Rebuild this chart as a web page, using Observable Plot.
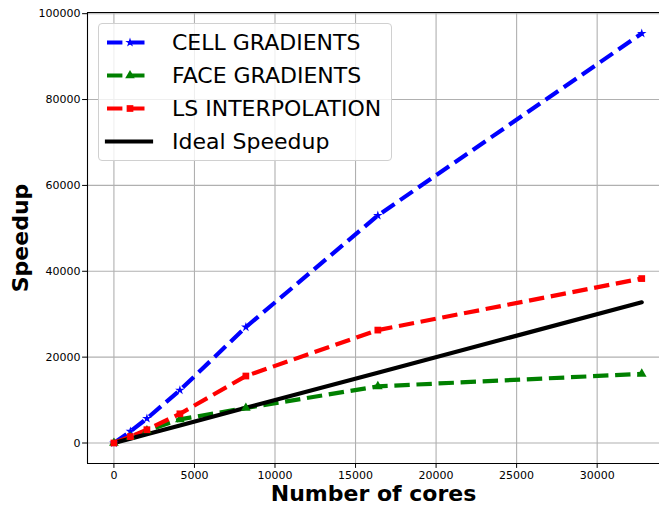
<!DOCTYPE html>
<html>
<head>
<meta charset="utf-8">
<script src="https://cdn.jsdelivr.net/npm/d3@7"></script>
<script src="https://cdn.jsdelivr.net/npm/@observablehq/plot@0.6"></script>
<style>
  html, body { margin: 0; padding: 0; background: #fff; }
  #wrap { position: relative; width: 659px; height: 506px; overflow: hidden; }
  #legend {
    position: absolute; left: 98px; top: 23px; width: 292px; height: 136px;
    border: 1px solid #d0d0d0; border-radius: 4px; background: rgba(255,255,255,0.8);
    font-family: "DejaVu Sans", sans-serif; font-size: 22px; color: #000;
  }
  .row { position: absolute; left: 0; height: 33px; width: 100%; }
  .row svg { position: absolute; left: 0; top: 0; }
  .row span { position: absolute; left: 73px; top: 50%; transform: translateY(-50%); line-height: 1; white-space: nowrap; }
</style>
</head>
<body>
<div id="wrap"></div>
<script>
const cores = [1, 1024, 2048, 4096, 8192, 16384, 32768];
const cellGradients = [1, 2700, 5700, 12300, 27000, 53000, 95400];
const faceGradients = [1, 1400, 2900, 5500, 8150, 13200, 16100];
const lsInterpolation = [1, 1500, 3100, 6800, 15600, 26300, 38300];
const idealSpeedup = [1, 1024, 2048, 4096, 8192, 16384, 32768];
const xTicks = [0, 5000, 10000, 15000, 20000, 25000, 30000];
const yTicks = [0, 20000, 40000, 60000, 80000, 100000];

const seriesNames = ["CELL GRADIENTS", "FACE GRADIENTS", "LS INTERPOLATION", "Ideal Speedup"];
const seriesColors = ["#0000ff", "#008000", "#ff0000", "#000000"];
const seriesSymbols = ["star", "triangle", "square", null];

function toRows(vals, name) { return cores.map((c, i) => ({cores: c, speedup: vals[i], name})); }
const cell = toRows(cellGradients, seriesNames[0]);
const face = toRows(faceGradients, seriesNames[1]);
const ls = toRows(lsInterpolation, seriesNames[2]);
const ideal = toRows(idealSpeedup, seriesNames[3]);

const xDom = [-1640, 33870];
const yDom = [-4775, 100275];
const dash = "15.4,6.7";

const chart = Plot.plot({
  width: 659, height: 506,
  marginLeft: 87, marginRight: 0, marginTop: 12, marginBottom: 43,
  style: { fontFamily: "DejaVu Sans, sans-serif", background: "#fff", overflow: "visible" },
  x: { domain: xDom, ticks: xTicks, tickFormat: d3.format("d") },
  y: { domain: yDom, ticks: yTicks, tickFormat: d3.format("d") },
  marks: [
    Plot.gridX(xTicks, { stroke: "#b0b0b0", strokeOpacity: 1, strokeWidth: 1.1 }),
    Plot.gridY(yTicks, { stroke: "#b0b0b0", strokeOpacity: 1, strokeWidth: 1.1 }),
    Plot.ruleX([xDom[0]], { stroke: "#000", strokeWidth: 1.1 }),
    Plot.ruleY([yDom[0], yDom[1]], { stroke: "#000", strokeWidth: 1.1 }),
    Plot.axisX({ ticks: xTicks, tickFormat: d3.format("d"), tickSize: 4.9, tickPadding: 3, fontSize: 11, label: null, stroke: "#000" }),
    Plot.axisY({ ticks: yTicks, tickFormat: d3.format("d"), tickSize: 4.9, tickPadding: 2, fontSize: 11, label: null, stroke: "#000" }),
    Plot.line(cell, { x: "cores", y: "speedup", stroke: seriesColors[0], strokeWidth: 4.2, strokeDasharray: dash, strokeLinecap: "butt" }),
    Plot.line(face, { x: "cores", y: "speedup", stroke: seriesColors[1], strokeWidth: 4.2, strokeDasharray: dash, strokeLinecap: "butt" }),
    Plot.line(ls, { x: "cores", y: "speedup", stroke: seriesColors[2], strokeWidth: 4.2, strokeDasharray: dash, strokeLinecap: "butt" }),
    Plot.line(ideal, { x: "cores", y: "speedup", stroke: seriesColors[3], strokeWidth: 4.2 }),
    Plot.dot(cell, { x: "cores", y: "speedup", symbol: "star", fill: seriesColors[0], r: 3 }),
    Plot.dot(face, { x: "cores", y: "speedup", symbol: "triangle", fill: seriesColors[1], r: 3.6 }),
    Plot.dot(ls, { x: "cores", y: "speedup", symbol: "square", fill: seriesColors[2], r: 3.8 }),
    Plot.text(["Number of cores"], { frameAnchor: "bottom", lineAnchor: "middle", textAnchor: "middle", dy: 30, fontSize: 22, fontWeight: "bold", fill: "#000" }),
    Plot.text(["Speedup"], { frameAnchor: "left", lineAnchor: "middle", textAnchor: "middle", dx: -67, rotate: -90, fontSize: 22, fontWeight: "bold", fill: "#000" })
  ]
});

const wrap = document.getElementById("wrap");
wrap.appendChild(chart);

// Legend
const legend = document.createElement("div");
legend.id = "legend";
const symPaths = {
  star: d3.symbol(d3.symbolStar, 28)(),
  triangle: d3.symbol(d3.symbolTriangle, 40)(),
  square: d3.symbol(d3.symbolSquare, 45)()
};
seriesNames.forEach((name, i) => {
  const row = document.createElement("div");
  row.className = "row";
  row.style.top = (2 + i * 33) + "px";
  const isIdeal = seriesSymbols[i] === null;
  const line = isIdeal
    ? `<line x1="8" x2="52" y1="16.5" y2="16.5" stroke="${seriesColors[i]}" stroke-width="4.2" stroke-linecap="square"/>`
    : `<line x1="8" x2="50" y1="16.5" y2="16.5" stroke="${seriesColors[i]}" stroke-width="4.2" stroke-dasharray="${dash}"/>` +
      `<path d="${symPaths[seriesSymbols[i]]}" transform="translate(31,16.5)" fill="${seriesColors[i]}"/>`;
  row.innerHTML = `<svg width="60" height="33">${line}</svg><span>${name}</span>`;
  legend.appendChild(row);
});
wrap.appendChild(legend);
</script>
</body>
</html>
